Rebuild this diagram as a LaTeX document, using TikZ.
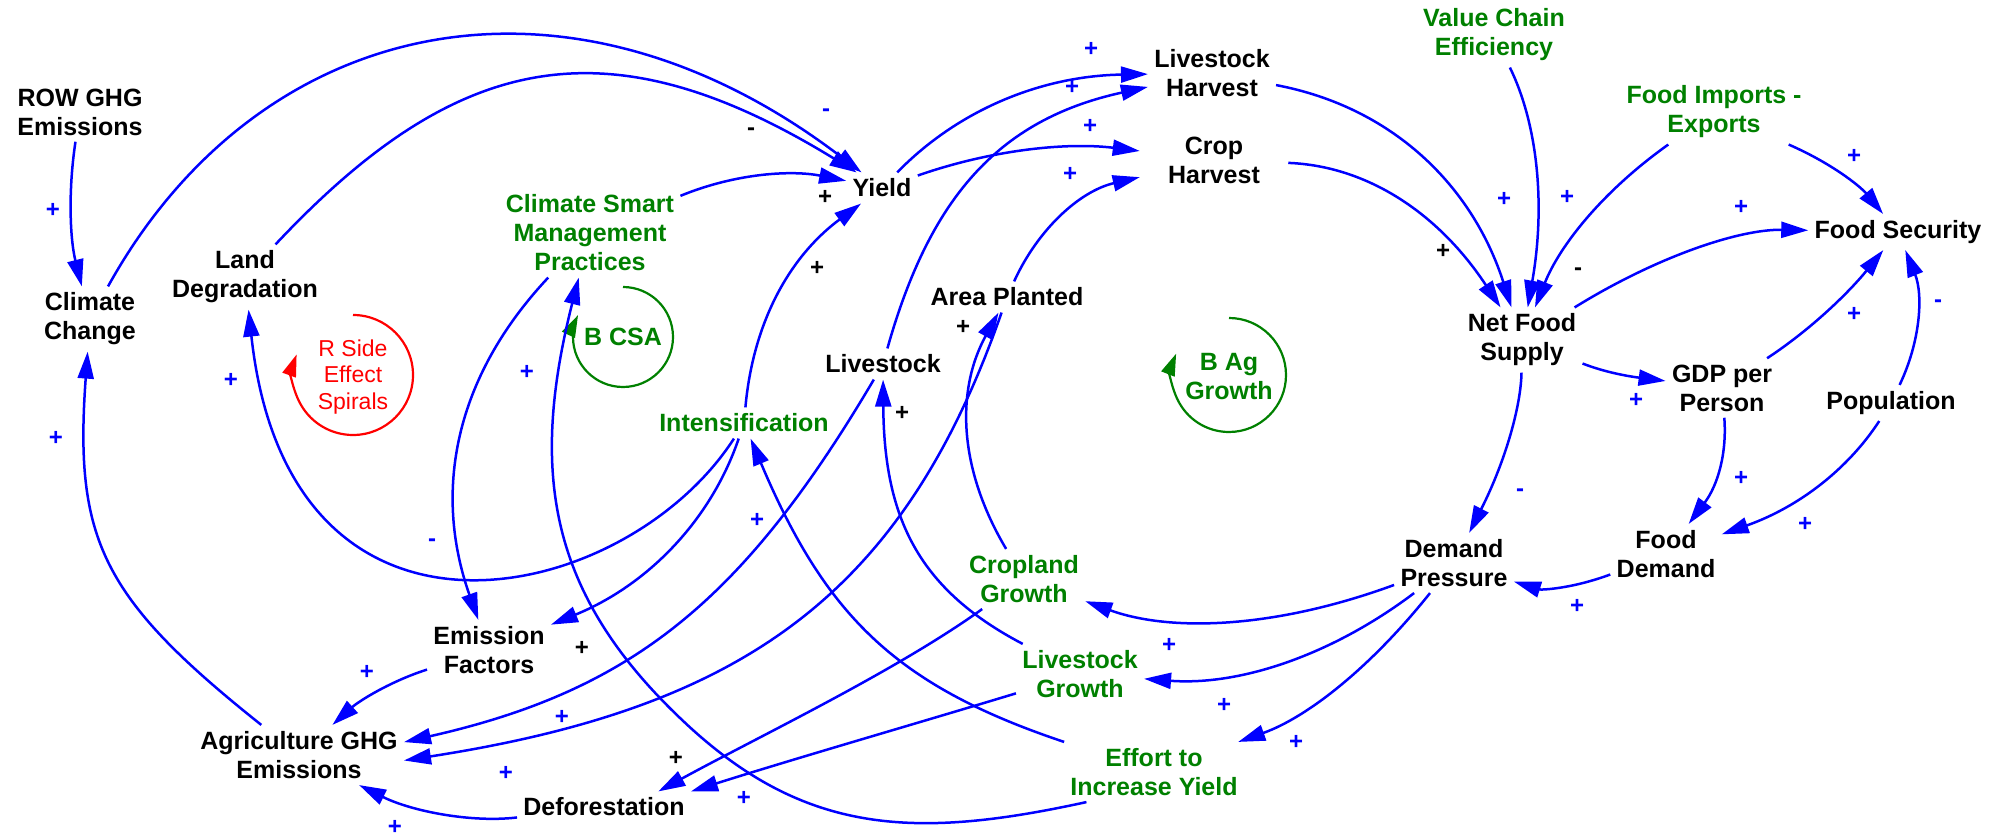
\documentclass[tikz,border=0pt]{standalone}
\usepackage{fontspec}
\setmainfont{Liberation Sans}
\usetikzlibrary{arrows.meta}
\definecolor{blu}{RGB}{0,0,255}
\definecolor{grn}{RGB}{0,128,0}
\definecolor{rd}{RGB}{255,0,0}
\begin{document}
\begin{tikzpicture}[x=0.5pt,y=-0.5pt,
 v/.style={font={\fontsize{12.5}{14.5}\selectfont\bfseries}, align=center, inner sep=3pt},
 g/.style={v, text=grn},
 lr/.style={font={\fontsize{11.5}{13.25}\selectfont}, align=center, inner sep=2pt, text=rd},
 lnk/.style={draw=blu, line width=1.25pt, -{Triangle[length=13.5pt,width=8pt]}},
 lp/.style={line width=1.1pt, -{Triangle[length=11pt,width=7pt]}},
 sp/.style={font={\fontsize{12}{12}\selectfont\bfseries}, text=blu, inner sep=0pt},
 sk/.style={sp, text=black},
]
\useasboundingbox (0,0) rectangle (1998,839);

% variables
\node[v] (ROW) at (80,112) {ROW GHG\\Emissions};
\node[v] (CC) at (90,319) {Climate\\Change};
\node[v] (LD) at (245,277) {Land\\Degradation};
\node[g] (CSMP) at (590,233) {Climate Smart\\Management\\Practices};
\node[v] (Yield) at (882,188) {Yield};
\node[v] (LH) at (1212,73) {Livestock\\Harvest};
\node[v, inner xsep=14pt] (CH) at (1214,160) {Crop\\Harvest};
\node[v] (AP) at (1007,297) {Area Planted};
\node[v] (LS) at (883,364) {Livestock};
\node[g] (Int) at (744,423) {Intensification};
\node[g] (VCE) at (1494,35) {Value Chain\\Efficiency};
\node[g] (FIE) at (1714,112) {Food Imports -\\Exports};
\node[v] (FS) at (1898,232) {Food Security};
\node[v] (NFS) at (1522,340) {Net Food\\Supply};
\node[v] (GDP) at (1722,388) {GDP per\\Person};
\node[v] (Pop) at (1891,403) {Population};
\node[v] (FD) at (1666,554) {Food\\Demand};
\node[v] (DP) at (1454,563) {Demand\\Pressure};
\node[g] (CG) at (1024,579) {Cropland\\Growth};
\node[g] (LG) at (1080,674) {Livestock\\Growth};
\node[g] (Eff) at (1154,772) {Effort to\\Increase Yield};
\node[v] (EF) at (489,650) {Emission\\Factors};
\node[v] (AG) at (299,755) {Agriculture GHG\\Emissions};
\node[v] (Def) at (604,807) {Deforestation};

% loop markers
\draw[lp, rd] (353,315) arc[start angle=270, end angle=560, radius=60];
\node[lr] (Rl) at (353,377) {R Side\\Effect\\Spirals};
\draw[lp, grn] (623,287) arc[start angle=270, end angle=566, radius=50];
\node[g] (Bcsa) at (623,337) {B CSA};
\draw[lp, grn] (1229,318) arc[start angle=270, end angle=562, radius=57];
\node[g] (Bag) at (1229,377) {B Ag\\Growth};

% links
\draw[lnk] (ROW) .. controls (68,191) and (70,239) .. (CC);
\draw[lnk] (CC) .. controls (259,14) and (567,-52) .. (Yield);
\draw[lnk] (LD) .. controls (457,51) and (608,20) .. (Yield);
\draw[lnk] (CSMP) .. controls (736,173) and (792,170) .. (Yield);
\draw[lnk] (Int) .. controls (753,323) and (789,257) .. (Yield);
\draw[lnk] (Yield) .. controls (958,110) and (1041,76) .. (LH);
\draw[lnk] (Yield) .. controls (991,150) and (1066,142) .. (CH);
\draw[lnk] (LS) .. controls (929,201) and (996,120) .. (LH);
\draw[lnk] (AP) .. controls (1038,229) and (1080,191) .. (CH);
\draw[lnk] (LH) .. controls (1392,107) and (1472,185) .. (NFS);
\draw[lnk] (CH) .. controls (1368,166) and (1439,214) .. (NFS);
\draw[lnk] (VCE) .. controls (1537,123) and (1546,203) .. (NFS);
\draw[lnk] (FIE) .. controls (1603,191) and (1560,245) .. (NFS);
\draw[lnk] (FIE) .. controls (1831,163) and (1860,186) .. (FS);
\draw[lnk] (NFS) .. controls (1656,257) and (1739,229) .. (FS);
\draw[lnk] (NFS) .. controls (1612,375) and (1642,378) .. (GDP);
\draw[lnk] (GDP) .. controls (1813,328) and (1850,291) .. (FS);
\draw[lnk] (Pop) .. controls (1921,340) and (1923,294) .. (FS);
\draw[lnk] (GDP) .. controls (1727,453) and (1718,485) .. (FD);
\draw[lnk] (Pop) .. controls (1848,469) and (1799,507) .. (FD);
\draw[lnk] (NFS) .. controls (1521,405) and (1506,460) .. (DP);
\draw[lnk] (FD) .. controls (1571,589) and (1541,590) .. (DP);
\draw[lnk] (DP) .. controls (1274,629) and (1170,632) .. (CG);
\draw[lnk] (DP) .. controls (1332,655) and (1240,686) .. (LG);
\draw[lnk] (DP) .. controls (1371,667) and (1308,717) .. (Eff);
\draw[lnk] (CG) .. controls (958,468) and (956,390) .. (AP);
\draw[lnk] (AP) .. controls (903,595) and (743,708) .. (AG.-3);
\draw[lnk] (LS) .. controls (742,603) and (630,691) .. (AG.7);
\draw[lnk] (Int) .. controls (711,520) and (648,585) .. (EF);
\draw[lnk] (Int) .. controls (626,606) and (289,683) .. (LD);
\draw[lnk] (CSMP) .. controls (454,378) and (433,492) .. (EF);
\coordinate (m1) at (680,718);
\draw[lnk] (Eff.204) .. controls (913,840) and (802,835) .. (m1)
  .. controls (550,594) and (529,474) .. (CSMP);
\draw[lnk] (Eff) .. controls (897,686) and (826,617) .. (Int);
\draw[lnk] (LG) .. controls (920,590) and (884,520) .. (LS);
\draw[lnk] (LG) .. controls (908,726) and (800,757) .. (Def.north east);
\draw[lnk] (CG) .. controls (896,671) and (758,737) .. (Def.16);
\draw[lnk] (Def) .. controls (471,823) and (411,811) .. (AG);
\draw[lnk] (EF) .. controls (391,681) and (359,701) .. (AG);
\draw[lnk] (AG) .. controls (102,598) and (74,540) .. (CC);

% polarity signs
\node[sp] (s1) at (53,210) {+};
\node[sp] (s2) at (826,113) {-};
\node[sk] (s3) at (751,132) {-};
\node[sk] (s4) at (825,197) {+};
\node[sk] (s5) at (817,268) {+};
\node[sp] (s6) at (1091,49) {+};
\node[sp] (s7) at (1090,126) {+};
\node[sp] (s8) at (1072,87) {+};
\node[sp] (s9) at (1070,174) {+};
\node[sp] (s10) at (1504,199) {+};
\node[sk] (s11) at (1443,251) {+};
\node[sp] (s12) at (1567,197) {+};
\node[sk] (s13) at (1578,272) {-};
\node[sp] (s14) at (1854,156) {+};
\node[sp] (s15) at (1741,207) {+};
\node[sp] (s16) at (1636,400) {+};
\node[sp] (s17) at (1854,314) {+};
\node[sp] (s18) at (1938,304) {-};
\node[sp] (s19) at (1741,478) {+};
\node[sp] (s20) at (1805,524) {+};
\node[sp] (s21) at (1520,493) {-};
\node[sp] (s22) at (1577,606) {+};
\node[sp] (s23) at (1169,645) {+};
\node[sp] (s24) at (1224,705) {+};
\node[sp] (s25) at (1296,742) {+};
\node[sk] (s26) at (963,327) {+};
\node[sk] (s27) at (902,413) {+};
\node[sp] (s28) at (757,520) {+};
\node[sk] (s29) at (676,758) {+};
\node[sp] (s30) at (744,798) {+};
\node[sp] (s31) at (231,380) {+};
\node[sp] (s32) at (432,543) {-};
\node[sp] (s33) at (527,372) {+};
\node[sk] (s34) at (582,648) {+};
\node[sp] (s35) at (562,717) {+};
\node[sp] (s36) at (506,773) {+};
\node[sp] (s37) at (395,827) {+};
\node[sp] (s38) at (367,672) {+};
\node[sp] (s39) at (56,438) {+};
\end{tikzpicture}
\end{document}
